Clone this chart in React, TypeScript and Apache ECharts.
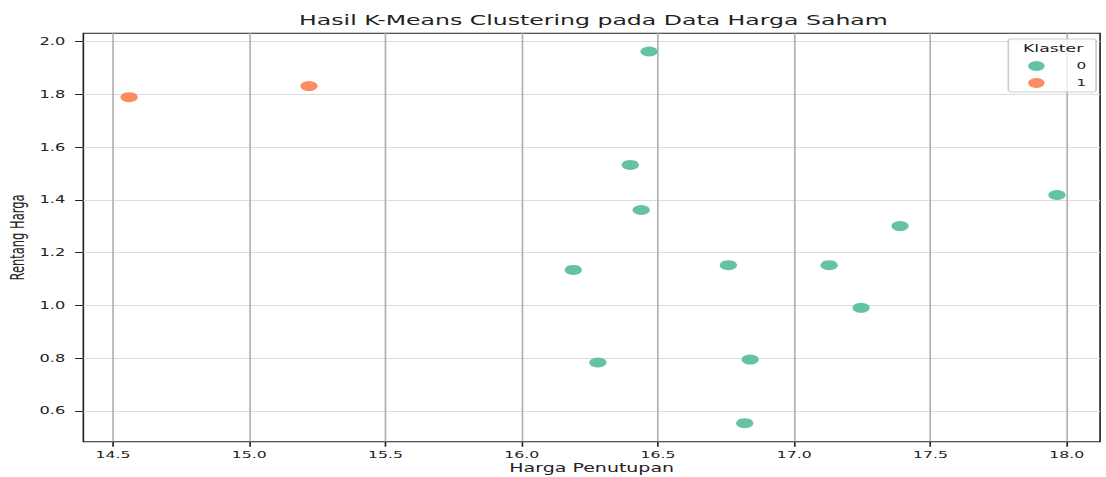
import React, { useEffect, useRef } from "react";
import * as echarts from "echarts";

// ---- data ----
const cluster0Close = [16.467, 16.398, 16.438, 16.189, 16.758, 17.128, 17.388, 17.964, 17.245, 16.279, 16.838, 16.818];
const cluster0Range = [1.963, 1.533, 1.362, 1.135, 1.153, 1.153, 1.301, 1.419, 0.991, 0.784, 0.795, 0.554];
const cluster1Close = [14.559, 15.219];
const cluster1Range = [1.79, 1.832];
const clusterNames = ["0", "1"];
const xTicks = [14.5, 15.0, 15.5, 16.0, 16.5, 17.0, 17.5, 18.0];
const yTicks = [0.6, 0.8, 1.0, 1.2, 1.4, 1.6, 1.8, 2.0];

const W = 670;
const H = 477;
const S = 1106 / W;
const FONT = "DejaVu Sans";
const GREEN = "#66c2a5";
const ORANGE = "#fc8d62";

export default function App() {
  const ref = useRef<HTMLDivElement>(null);
  useEffect(() => {
    if (!ref.current) return;
    const chart = echarts.init(ref.current, undefined, { renderer: "svg" });
    const zip = (a: number[], b: number[]) => a.map((v, i) => [v, b[i]]);
    chart.setOption({
      animation: false,
      backgroundColor: "#ffffff",
      grid: {
        left: 50.5,
        right: 3.6,
        top: 33.3,
        bottom: 35.3,
        containLabel: false,
        outerBoundsMode: "none",
        show: true,
        borderColor: "#222",
        borderWidth: 1,
        backgroundColor: "transparent",
      },
      graphic: [
        {
          type: "text",
          x: 359.5,
          y: 20,
          style: {
            text: "Hasil K-Means Clustering pada Data Harga Saham",
            textAlign: "center",
            textVerticalAlign: "middle",
            fontFamily: FONT,
            fontSize: 14.3,
            fill: "#222",
          },
        },
        {
          type: "text",
          x: 638,
          y: 48,
          z: 100,
          style: {
            text: "Klaster",
            textAlign: "center",
            textVerticalAlign: "middle",
            fontFamily: FONT,
            fontSize: 10.5,
            fill: "#222",
          },
        },
      ],
      legend: {
        data: clusterNames,
        orient: "vertical",
        right: 6,
        top: 39,
        padding: [22, 6, 4, 12],
        itemGap: 7,
        itemWidth: 10.5,
        itemHeight: 10,
        icon: "circle",
        backgroundColor: "rgba(255,255,255,0.8)",
        borderColor: "#cccccc",
        borderWidth: 1,
        borderRadius: 2,
        textStyle: {
          fontFamily: FONT,
          fontSize: 9.3,
          color: "#222",
          padding: [0, 0, 0, 14],
          lineHeight: 10,
        },
      },
      xAxis: {
        type: "value",
        min: 14.391,
        max: 18.122,
        name: "Harga Penutupan",
        nameLocation: "middle",
        nameGap: 20.5,
        nameMoveOverlap: false,
        nameTextStyle: { fontFamily: FONT, fontSize: 11.5, color: "#222" },
        axisLine: { show: false, onZero: false },
        axisTick: { show: true, length: 5, customValues: xTicks, lineStyle: { color: "#222" } },
        axisLabel: {
          customValues: xTicks,
          formatter: (v: number) => v.toFixed(1),
          fontFamily: FONT,
          fontSize: 9.5,
          color: "#222",
          margin: 8,
        },
        splitLine: { show: true, customValues: xTicks, lineStyle: { color: "#b0b0b0", width: 1 } },
      },
      yAxis: {
        type: "value",
        min: 0.4836,
        max: 2.032,
        name: "Rentang Harga",
        nameLocation: "middle",
        nameGap: 34,
        nameMoveOverlap: false,
        nameTextStyle: { fontFamily: FONT, fontSize: 11.5, color: "#222" },
        axisLine: { show: false, onZero: false },
        axisTick: { show: true, length: 5, customValues: yTicks, lineStyle: { color: "#222" } },
        axisLabel: {
          customValues: yTicks,
          formatter: (v: number) => v.toFixed(1),
          fontFamily: FONT,
          fontSize: 9.8,
          color: "#222",
          margin: 11,
        },
        splitLine: { show: true, customValues: yTicks, lineStyle: { color: "#dcdcdc", width: 1 } },
      },
      series: [
        {
          name: clusterNames[0],
          type: "scatter",
          symbol: "circle",
          symbolSize: [10.5, 10],
          itemStyle: { color: GREEN, opacity: 1 },
          data: zip(cluster0Close, cluster0Range),
          z: 5,
        },
        {
          name: clusterNames[1],
          type: "scatter",
          symbol: "circle",
          symbolSize: [10.5, 10],
          itemStyle: { color: ORANGE, opacity: 1 },
          data: zip(cluster1Close, cluster1Range),
          z: 5,
        },
      ],
    });
    return () => chart.dispose();
  }, []);

  return (
    <div
      style={{
        position: "fixed",
        left: 0,
        top: 0,
        width: 1106,
        height: H,
        overflow: "hidden",
        background: "#fff",
      }}
    >
      <div
        ref={ref}
        style={{
          width: W,
          height: H,
          transform: `scaleX(${S})`,
          transformOrigin: "0 0",
        }}
      />
    </div>
  );
}
